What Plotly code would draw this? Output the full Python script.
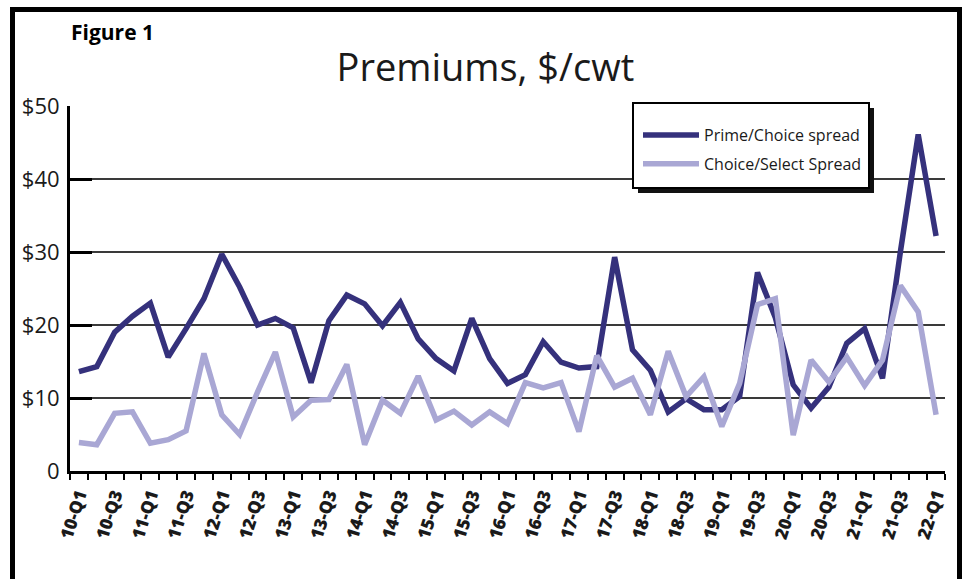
import plotly.graph_objects as go

# Quarterly labels, 2010 Q1 through 2022 Q1
quarters = [f"{yy}-Q{q}" for yy in range(10, 23) for q in range(1, 5)][:49]

# Premiums, $/cwt
prime_choice = [13.6, 14.3, 19.0, 21.2, 23.0, 15.6, 19.5, 23.6, 29.7, 25.2,
                20.0, 20.9, 19.6, 12.1, 20.6, 24.1, 22.9, 19.9, 23.1, 18.1,
                15.4, 13.7, 20.9, 15.4, 12.0, 13.2, 17.7, 14.9, 14.1, 14.3,
                29.3, 16.6, 13.8, 8.1, 9.9, 8.4, 8.4, 10.2, 27.2, 21.0,
                11.8, 8.6, 11.5, 17.5, 19.5, 12.7, 30.0, 46.1, 32.2]
choice_select = [3.9, 3.6, 7.9, 8.1, 3.8, 4.3, 5.5, 16.1, 7.7, 5.0,
                 10.8, 16.3, 7.4, 9.7, 9.8, 14.6, 3.6, 9.7, 7.9, 13.0,
                 7.0, 8.2, 6.3, 8.1, 6.5, 12.1, 11.4, 12.1, 5.4, 15.8,
                 11.5, 12.7, 7.7, 16.4, 10.2, 12.9, 6.1, 12.0, 22.8, 23.6,
                 4.9, 15.2, 12.2, 15.6, 11.7, 15.2, 25.4, 21.8, 7.7]

y_ticks = [0, 10, 20, 30, 40, 50]
y_labels = ["0", "$10", "$20", "$30", "$40", "$50"]

DARK = "#35317c"
LIGHT = "#a9a7d4"

W, H = 963, 579
ML, MR, MT, MB = 70, 18, 106, 108
PW, PH = W - ML - MR, H - MT - MB


def px_x(p):
    return (p - ML) / PW


def px_y(p):
    return (H - MB - p) / PH


idx = list(range(len(quarters)))
label_idx = idx[::2]
bounds = [i - 0.5 for i in range(len(quarters) + 1)]
xr = [-0.5, len(quarters) - 0.5]

fig = go.Figure()
fig.add_trace(go.Scatter(x=idx, y=prime_choice, mode="lines", name="Prime/Choice spread",
                         legendgroup="a", line=dict(color=DARK, width=5.5)))
fig.add_trace(go.Scatter(x=idx, y=choice_select, mode="lines", name="Choice/Select Spread",
                         legendgroup="b", line=dict(color=LIGHT, width=5.5)))

fig.update_layout(
    width=W, height=H,
    margin=dict(l=ML, r=MR, t=MT, b=MB),
    paper_bgcolor="white", plot_bgcolor="white",
    font=dict(family="Open Sans", color="#1a1a1a"),
    title=dict(text="Premiums, $/cwt", x=0.504, xanchor="center", y=1 - 68 / H,
               yanchor="middle", font=dict(size=38, family="Open Sans", color="#1a1a1a")),
    xaxis=dict(range=xr, tickmode="array", tickvals=label_idx,
               ticktext=[quarters[i] for i in label_idx], ticks="", tickangle=-72,
               tickfont=dict(size=17.5, family="Open Sans", weight=800, color="#1a1a1a"),
               showline=True, linecolor="black", linewidth=2.5, showgrid=False, zeroline=False,
               minor=dict(tickmode="array", tickvals=bounds, ticks="outside", ticklen=6,
                          tickwidth=2.2, tickcolor="black", showgrid=False),
               ticklabelstandoff=4),
    xaxis2=dict(range=xr, overlaying="x", anchor="y", side="bottom", tickmode="array",
                tickvals=bounds, ticks="inside", ticklen=6, tickwidth=2.2, tickcolor="black",
                showticklabels=False, showgrid=False, zeroline=False, showline=False),
    yaxis=dict(range=[0, 50], tickmode="array", tickvals=y_ticks, ticktext=y_labels,
               ticks="inside", ticklen=22, tickwidth=3, tickcolor="black",
               showline=True, linecolor="black", linewidth=3,
               showgrid=True, gridcolor="#3a3a3a", gridwidth=1.5, zeroline=False,
               tickfont=dict(size=22, family="Open Sans", color="#1a1a1a"),
               ticklabelstandoff=3),
    showlegend=True,
    legend=dict(x=px_x(638), y=px_y(118), xanchor="left", yanchor="top",
                bgcolor="rgba(0,0,0,0)", borderwidth=0, itemwidth=56,
                tracegroupgap=5, font=dict(size=16, family="Open Sans", color="#1a1a1a")),
)

# Legend box with drop shadow
fig.add_shape(type="rect", xref="paper", yref="paper", layer="above",
              x0=px_x(638), x1=px_x(874), y0=px_y(193), y1=px_y(108),
              fillcolor="#111111", line=dict(width=0))
fig.add_shape(type="rect", xref="paper", yref="paper", layer="above",
              x0=px_x(633), x1=px_x(869), y0=px_y(188), y1=px_y(103),
              fillcolor="white", line=dict(color="black", width=2))

# Outer frame
fig.add_shape(type="rect", xref="paper", yref="paper", layer="above",
              x0=px_x(12.5), x1=px_x(959.5), y0=px_y(640), y1=px_y(9.5),
              fillcolor="rgba(0,0,0,0)", line=dict(color="black", width=5))

fig.add_annotation(text="<b>Figure 1</b>", xref="paper", yref="paper",
                   x=px_x(69), y=px_y(32), xanchor="left", yanchor="middle", showarrow=False,
                   font=dict(size=21, family="Open Sans", weight=800, color="black"))

fig.write_html("out.html")
